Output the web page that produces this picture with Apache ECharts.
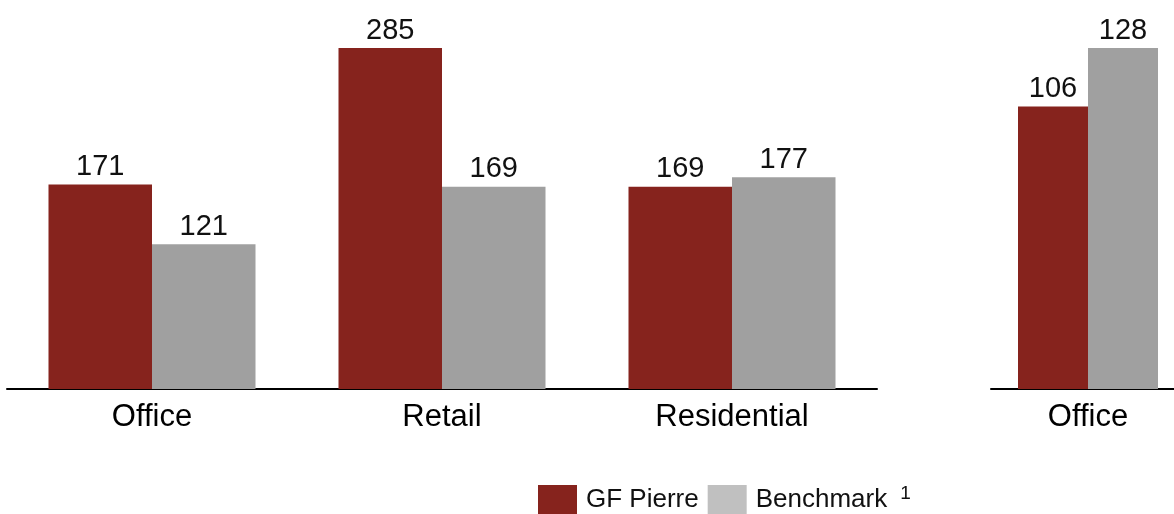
<!DOCTYPE html>
<html>
<head>
<meta charset="utf-8">
<script src="https://cdn.jsdelivr.net/npm/echarts@6/dist/echarts.min.js"></script>
<style>
  html, body { margin: 0; padding: 0; background: #ffffff; }
  #chart { width: 1174px; height: 514px; }
</style>
</head>
<body>
<div id="chart"></div>
<script>
// Main panel: rent index by sector
const categories = ['Office', 'Retail', 'Residential'];
const gfPierre = [171, 285, 169];
const benchmark = [121, 169, 177];

// Second panel: office only
const categories2 = ['Office'];
const gfPierre2 = [106];
const benchmark2 = [128];

const RED = '#86231d';
const GREY = '#a0a0a0';
const GREY_LEGEND = '#c0c0c0';
const FONT = 'Liberation Sans, Arial, sans-serif';

const valueLabel = {
  show: true,
  position: 'top',
  distance: 3,
  color: '#111',
  fontFamily: FONT,
  fontSize: 29
};

const catAxis = (idx, data) => ({
  type: 'category',
  gridIndex: idx,
  data: data,
  axisLine: { show: true, lineStyle: { color: '#000', width: 2 } },
  axisTick: { show: false },
  axisLabel: { color: '#000', fontFamily: FONT, fontSize: 31, margin: 13 }
});

const valAxis = (idx, max) => ({
  type: 'value',
  gridIndex: idx,
  min: 0,
  max: max,
  show: false,
  splitLine: { show: false }
});

const chart = echarts.init(document.getElementById('chart'));
chart.setOption({
  animation: false,
  backgroundColor: '#ffffff',
  grid: [
    { left: 7, top: 48, width: 870, height: 341, outerBoundsMode: 'none' },
    { left: 991, top: 48, width: 194, height: 341, outerBoundsMode: 'none' }
  ],
  xAxis: [catAxis(0, categories), catAxis(1, categories2)],
  yAxis: [valAxis(0, 285), valAxis(1, 128)],
  legend: {
    left: 533,
    top: 479,
    itemWidth: 39,
    itemHeight: 29,
    itemGap: 9,
    icon: 'rect',
    data: [
      { name: 'GF Pierre', itemStyle: { color: RED } },
      { name: 'Benchmark', itemStyle: { color: GREY_LEGEND } }
    ],
    formatter: function (name) {
      return name === 'Benchmark' ? '{t|Benchmark}{s|1}' : '{t|' + name + '}';
    },
    textStyle: {
      color: '#111',
      fontFamily: FONT,
      rich: {
        t: { fontSize: 26, fontFamily: FONT, color: '#111', padding: [0, 0, 0, 4] },
        s: { fontSize: 19, fontFamily: FONT, color: '#111', padding: [0, 0, 12, 13] }
      }
    }
  },
  series: [
    {
      name: 'GF Pierre', type: 'bar', xAxisIndex: 0, yAxisIndex: 0,
      data: gfPierre, barWidth: 103.5, barGap: '0%',
      itemStyle: { color: RED }, label: valueLabel
    },
    {
      name: 'Benchmark', type: 'bar', xAxisIndex: 0, yAxisIndex: 0,
      data: benchmark, barWidth: 103.5, barGap: '0%',
      itemStyle: { color: GREY }, label: valueLabel
    },
    {
      name: 'GF Pierre', type: 'bar', xAxisIndex: 1, yAxisIndex: 1,
      data: gfPierre2, barWidth: 70, barGap: '0%',
      itemStyle: { color: RED }, label: valueLabel
    },
    {
      name: 'Benchmark', type: 'bar', xAxisIndex: 1, yAxisIndex: 1,
      data: benchmark2, barWidth: 70, barGap: '0%',
      itemStyle: { color: GREY }, label: valueLabel
    }
  ]
});
</script>
</body>
</html>
